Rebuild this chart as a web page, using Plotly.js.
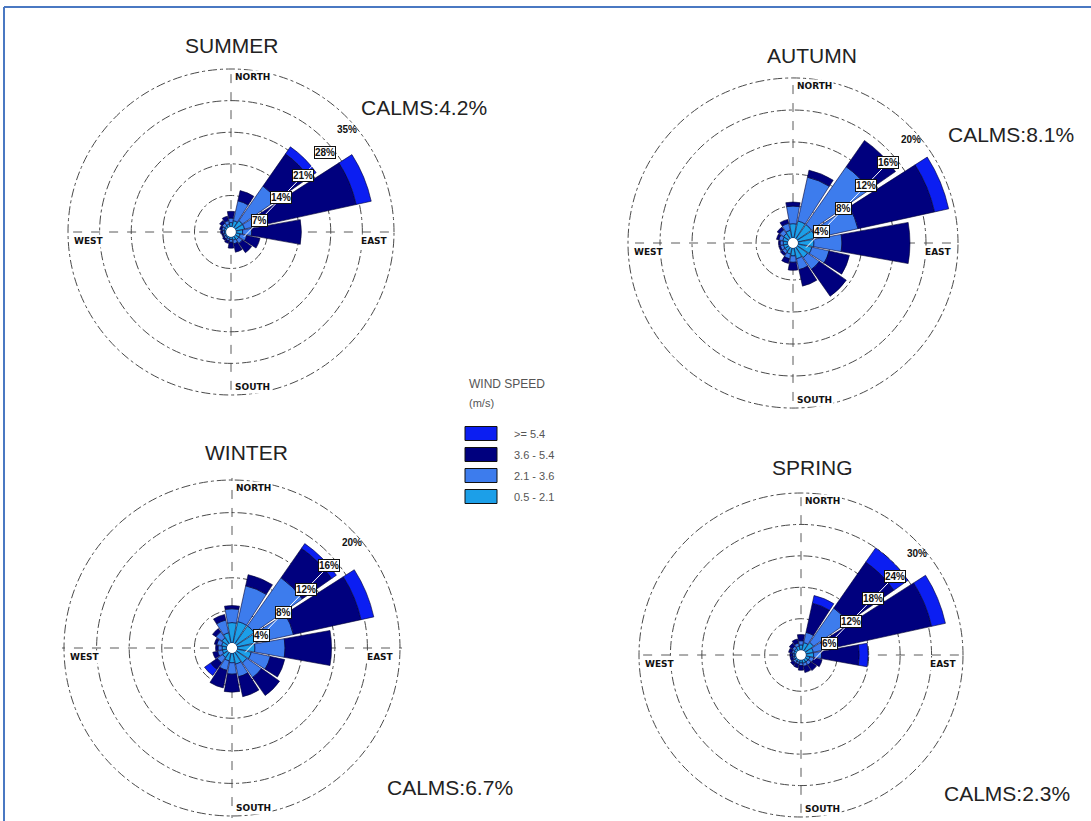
<!DOCTYPE html>
<html><head><meta charset="utf-8">
<script src="https://cdn.plot.ly/plotly-3.0.1.min.js"></script>
<style>html,body{margin:0;padding:0;background:#fff}#chart{width:1091px;height:821px}</style>
</head><body><div id="chart"></div>
<script>
// ---------- DATA ----------
const DIRECTIONS = ['N','NNE','NE','ENE','E','ESE','SE','SSE','S','SSW','SW','WSW','W','WNW','NW','NNW'];
const SPEED_LABELS = ['0.5 - 2.1','2.1 - 3.6','3.6 - 5.4','>= 5.4'];
const SPEED_COLORS = ['#1c9fe8','#3d7ced','#00007e','#0b1ef2'];
const SEASONS = ['SUMMER','AUTUMN','WINTER','SPRING'];
const CALMS = ['CALMS:4.2%','CALMS:8.1%','CALMS:6.7%','CALMS:2.3%'];
const RINGS_SUMMER = [7,14,21,28,35];
const RINGS_AUTUMN = [4,8,12,16,20];
const RINGS_WINTER = [4,8,12,16,20];
const RINGS_SPRING = [6,12,18,24,30];

// frequencies (%) per direction, N..NNW, per speed class
const summer_05_21 = [1.0,1.5,2.0,2.0,1.5,1.0,1.0,0.8,0.6,0.5,0.4,0.4,0.4,0.5,0.6,0.7];
const summer_21_36 = [1.0,4.5,9.3,3.0,2.0,1.5,1.0,0.8,0.6,0.4,0.4,0.3,0.4,0.5,0.7,0.8];
const summer_36_54 = [1.5,2.3,8.7,22.3,11.0,3.0,2.5,1.9,1.3,0.6,0.4,0.3,0.4,0.5,0.7,1.0];
const summer_54    = [0,0,1.9,3.4,0,0,0,0,0,0,0,0,0,0,0,0];

const autumn_05_21 = [1.8,2.2,2.2,2.2,2.0,1.8,1.6,1.4,1.0,0.8,0.6,0.6,0.6,0.7,0.8,1.0];
const autumn_21_36 = [2.2,5.6,8.8,5.5,3.5,2.2,1.8,1.4,0.8,0.6,0.4,0.4,0.4,0.5,0.6,0.9];
const autumn_36_54 = [0.5,0.9,4.0,9.8,8.5,2.6,4.1,2.1,1.0,0.6,0.3,0.2,0.2,0.3,0.4,0.5];
const autumn_54    = [0,0,0,1.8,0,0,0,0,0,0,0,0,0,0,0,0];

const winter_05_21 = [2.5,2.7,2.7,2.5,2.2,1.8,1.6,1.4,1.2,1.0,0.8,0.6,0.6,0.7,0.9,1.3];
const winter_21_36 = [1.7,4.5,7.2,4.6,3.7,2.4,2.2,1.6,1.4,1.2,0.8,0.6,0.5,0.6,0.9,1.6];
const winter_36_54 = [0.4,1.4,4.4,8.5,5.7,1.8,2.7,2.5,2.2,2.2,1.0,0.6,0.3,0.3,0.5,0.7];
const winter_54    = [0,0,0.7,1.6,0,0,0,0,0,0,0.9,0,0,0,0,0];

const spring_05_21 = [1.0,1.5,2.0,1.5,1.5,0.8,0.7,0.7,0.6,0.5,0.5,0.4,0.4,0.5,0.6,0.8];
const spring_21_36 = [0.8,2.0,8.0,2.0,1.5,0.8,0.7,0.6,0.5,0.4,0.4,0.3,0.3,0.4,0.5,0.6];
const spring_36_54 = [1.2,5.7,10.7,21.1,7.2,1.6,1.3,1.2,0.9,0.7,0.6,0.5,0.5,0.6,0.7,0.8];
const spring_54    = [0,1.5,3.3,2.7,1.7,0,0,0,0,0,0,0,0,0,0,0];

// ---------- LAYOUT GEOMETRY (pixels) ----------
const W = 1091, H = 821, HOLE = 0.03, PAD = 1.012;
const GEOM = [
  {cx:231, cy:232, R:163, title:[231,46],  calm:[424,107]},
  {cx:793, cy:243, R:165, title:[812,55],  calm:[1011,135]},
  {cx:232, cy:648, R:168, title:[246,452], calm:[450,787]},
  {cx:801, cy:655, R:162, title:[812,467], calm:[1007,793]}
];
const SERIES = [
  [summer_05_21, summer_21_36, summer_36_54, summer_54],
  [autumn_05_21, autumn_21_36, autumn_36_54, autumn_54],
  [winter_05_21, winter_21_36, winter_36_54, winter_54],
  [spring_05_21, spring_21_36, spring_36_54, spring_54]
];
const RINGS = [RINGS_SUMMER, RINGS_AUTUMN, RINGS_WINTER, RINGS_SPRING];

const px = x => x / W, py = y => 1 - y / H;
const traces = [], annotations = [], shapes = [];
const layout = {
  width: W, height: H, margin: {l:0, r:0, t:0, b:0},
  paper_bgcolor: '#ffffff', showlegend: false,
  font: {family: 'Liberation Sans, Arial, sans-serif', color: '#222'},
  annotations, shapes
};

SEASONS.forEach((season, k) => {
  const g = GEOM[k];
  const key = k === 0 ? 'polar' : 'polar' + (k + 1);
  const rings = RINGS[k];
  const rmax = rings[rings.length - 1];
  // outer ring (rmax) sits at radius R; the polar area extends a little beyond so it is drawn
  const Rout = g.R * PAD;
  const rangeMax = rmax * (PAD - HOLE) / (1 - HOLE);
  layout[key] = {
    domain: {x: [px(g.cx - Rout), px(g.cx + Rout)], y: [py(g.cy + Rout), py(g.cy - Rout)]},
    bgcolor: 'rgba(0,0,0,0)', hole: HOLE / PAD, barmode: 'stack',
    radialaxis: {range: [0, rangeMax], tickvals: rings, showticklabels: false, ticks: '',
      showline: false, gridcolor: '#4a4a4a', griddash: 'dashdot', gridwidth: 1},
    angularaxis: {type: 'category', categoryarray: DIRECTIONS, direction: 'clockwise', rotation: 90,
      tickvals: ['N','E','S','W'], showticklabels: false, ticks: '', showline: false,
      gridcolor: '#5a5a5a', griddash: 'dash', gridwidth: 1}
  };
  SERIES[k].forEach((vals, j) => {
    traces.push({
      type: 'barpolar', subplot: key, name: SPEED_LABELS[j],
      theta: DIRECTIONS, r: vals,
      marker: {color: SPEED_COLORS[j], line: {color: '#000033', width: 0.6}},
      hoverinfo: 'skip'
    });
  });
  // titles
  annotations.push({xref:'paper', yref:'paper', x:px(g.title[0]), y:py(g.title[1]), text:season,
    showarrow:false, font:{size:21, color:'#222'}, xanchor:'center', yanchor:'middle'});
  annotations.push({xref:'paper', yref:'paper', x:px(g.calm[0]), y:py(g.calm[1]), text:CALMS[k],
    showarrow:false, font:{size:21, color:'#222'}, xanchor:'center', yanchor:'middle'});
  // compass labels
  const cf = {size:9, color:'#111', family:'DejaVu Sans, Liberation Sans, sans-serif', weight:'bold'};
  annotations.push({xref:'paper', yref:'paper', x:px(g.cx + 2), y:py(g.cy - g.R + 8), text:'NORTH', showarrow:false, font:cf, xanchor:'left', yanchor:'middle', bgcolor:'#ffffff'});
  annotations.push({xref:'paper', yref:'paper', x:px(g.cx + 2), y:py(g.cy + g.R - 8), text:'SOUTH', showarrow:false, font:cf, xanchor:'left', yanchor:'middle', bgcolor:'#ffffff'});
  annotations.push({xref:'paper', yref:'paper', x:px(g.cx + g.R - 4), y:py(g.cy + 9), text:'EAST', showarrow:false, font:cf, xanchor:'right', yanchor:'middle', bgcolor:'#ffffff'});
  annotations.push({xref:'paper', yref:'paper', x:px(g.cx - g.R + 4), y:py(g.cy + 9), text:'WEST', showarrow:false, font:cf, xanchor:'left', yanchor:'middle', bgcolor:'#ffffff'});
  // ring labels along bearing 44 deg
  const b = 44 * Math.PI / 180;
  const rp = v => g.R * (HOLE + (1 - HOLE) * v / rmax);
  const lab = v => [g.cx + rp(v) * Math.sin(b) + 3, g.cy - rp(v) * Math.cos(b) + 15];
  const p0 = lab(rings[0] * 0.3), p1 = lab(rings[rings.length - 2]);
  shapes.push({type:'line', xref:'paper', yref:'paper', x0:px(p0[0]), y0:py(p0[1]), x1:px(p1[0]), y1:py(p1[1]),
    line:{color:'#ffffff', width:1}, layer:'above'});
  rings.forEach(v => {
    const p = lab(v);
    annotations.push({xref:'paper', yref:'paper', x:px(p[0]), y:py(p[1]), text:v + '%', showarrow:false,
      font:{size:10, color:'#111', family:'Liberation Sans, Arial, sans-serif', weight:'bold'},
      bgcolor: v === rmax ? 'rgba(0,0,0,0)' : '#ffffff', bordercolor: v === rmax ? 'rgba(0,0,0,0)' : '#111',
      borderwidth: 1, borderpad: 0, xanchor:'center', yanchor:'middle'});
  });
});

// legend (custom, built from the speed classes)
annotations.push({xref:'paper', yref:'paper', x:px(467), y:py(384), text:'WIND SPEED', showarrow:false,
  font:{size:12, color:'#555'}, xanchor:'left', yanchor:'middle'});
annotations.push({xref:'paper', yref:'paper', x:px(467), y:py(403), text:'(m/s)', showarrow:false,
  font:{size:11, color:'#555'}, xanchor:'left', yanchor:'middle'});
const legendOrder = [3, 2, 1, 0];
legendOrder.forEach((j, i) => {
  const yc = 433.5 + i * 21;
  shapes.push({type:'rect', xref:'paper', yref:'paper', x0:px(465), x1:px(497), y0:py(yc + 7), y1:py(yc - 7),
    fillcolor: SPEED_COLORS[j], line:{color:'#111', width:1}});
  annotations.push({xref:'paper', yref:'paper', x:px(512), y:py(yc), text:SPEED_LABELS[j], showarrow:false,
    font:{size:11, color:'#555'}, xanchor:'left', yanchor:'middle'});
});

// page frame
shapes.push({type:'line', xref:'paper', yref:'paper', x0:px(4), x1:px(1091), y0:py(7), y1:py(7), line:{color:'#4a78c2', width:2}});
shapes.push({type:'line', xref:'paper', yref:'paper', x0:px(4), x1:px(4), y0:py(7), y1:py(821), line:{color:'#4a78c2', width:2}});

Plotly.newPlot('chart', traces, layout, {displayModeBar:false, staticPlot:true});
</script></body></html>
